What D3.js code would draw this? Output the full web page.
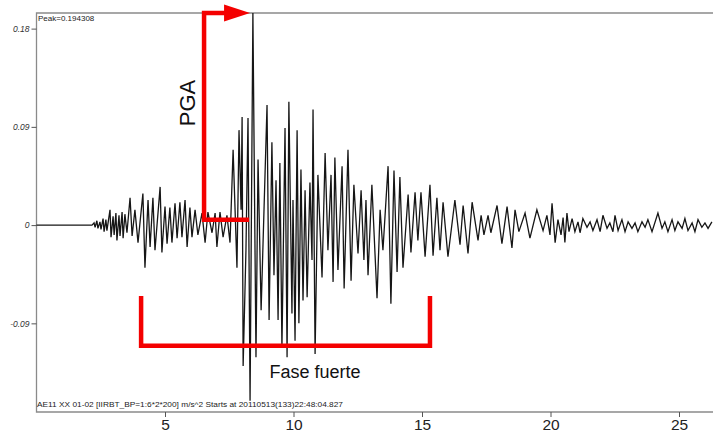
<!DOCTYPE html>
<html><head><meta charset="utf-8">
<script src="https://cdn.jsdelivr.net/npm/d3@7"></script>
<style>body{margin:0;background:#fff}svg{display:block}</style>
</head><body>
<svg id="chart" width="713" height="431"></svg>
<script>
// time (s) of each sample / extremum
const times = [0,2.16,2.24,2.28,2.35,2.39,2.47,2.51,2.59,2.63,2.70,2.74,2.86,2.90,2.98,3.02,3.09,3.13,3.21,3.25,3.33,3.37,3.44,3.52,3.64,3.72,3.83,3.95,4.14,4.22,4.34,4.42,4.53,4.61,4.81,4.88,5.00,5.08,5.19,5.27,5.39,5.47,5.58,5.66,5.78,5.86,5.97,6.05,6.17,6.28,6.44,6.56,6.67,6.83,6.95,7.02,7.14,7.26,7.41,7.53,
7.65,7.80,7.88,7.96,8.00,8.04,8.15,8.23,8.31,8.42,8.54,8.62,8.74,8.97,9.05,9.16,9.24,9.32,9.40,9.47,9.55,9.67,9.75,9.82,9.94,9.98,10.06,10.14,10.21,10.29,10.37,10.45,10.53,10.64,10.72,10.76,10.84,10.95,
11.11,11.23,11.34,11.46,11.54,11.61,11.73,11.89,11.97,12.12,12.24,12.35,12.51,12.63,12.74,12.82,12.90,13.05,13.25,13.37,13.48,13.68,13.79,13.91,14.03,14.14,14.26,14.46,14.57,14.73,14.84,
14.96,15.12,15.31,15.43,15.58,15.70,15.82,16.01,16.28,16.48,16.60,16.79,16.95,17.18,17.30,17.41,17.57,17.68,17.92,18.11,18.31,18.50,18.62,18.77,19.01,19.20,19.47,19.71,19.86,19.98,20.06,20.18,20.29,20.41,
20.49,20.56,20.64,20.72,20.84,20.95,21.07,21.15,21.26,21.42,21.54,21.65,21.81,21.93,22.04,22.20,22.31,22.43,22.51,22.63,22.78,22.90,23.02,23.17,23.29,23.40,23.56,23.68,23.79,23.95,24.18,24.34,24.45,24.57,24.73,24.84,24.96,25.12,25.23,25.35,25.51,25.62,25.74,25.89,26.01,26.13,26.28];
// acceleration (m/s^2)
const accel = [0,0,0.002,-0.002,0.004,-0.003,0.003,-0.004,0.006,-0.006,0.005,-0.005,0.014,-0.011,0.008,-0.009,0.011,-0.014,0.009,-0.010,0.012,-0.012,0.010,-0.007,0.025,-0.010,0.014,-0.016,0.029,-0.039,0.023,-0.020,0.025,-0.023,0.035,-0.025,0.017,-0.017,0.016,-0.016,0.020,-0.012,0.021,-0.011,0.023,-0.020,0.016,-0.011,0.014,-0.009,0.011,-0.016,0.012,-0.007,0.011,-0.020,0.012,-0.011,0.009,-0.016,
0.069,-0.039,0.087,0.014,0.099,-0.129,-0.023,0.098,-0.161,0.1943,-0.121,0.060,-0.078,0.110,-0.087,0.076,-0.046,0.041,-0.087,0.057,-0.112,0.089,-0.121,0.113,-0.081,0.023,-0.106,0.087,-0.090,0.051,-0.069,0.032,-0.066,0.039,-0.032,0.106,-0.118,0.046,
-0.048,0.066,-0.023,0.046,-0.052,0.062,-0.041,0.054,-0.058,0.069,-0.051,0.037,-0.026,0.032,-0.032,0.023,-0.046,0.037,-0.067,0.014,-0.023,0.054,-0.072,0.050,-0.043,0.044,-0.039,0.028,-0.025,0.030,-0.014,
0.030,-0.029,0.037,-0.028,0.025,-0.023,0.021,-0.029,0.023,-0.018,0.018,-0.026,0.021,-0.014,0.009,-0.009,0.009,-0.007,0.018,-0.017,0.017,-0.021,0.014,-0.006,0.011,-0.012,0.014,-0.005,0.009,-0.009,0.020,-0.016,0.005,-0.009,
0.007,-0.016,0.011,-0.006,0.006,-0.006,0.003,-0.007,0.006,-0.002,0.003,-0.005,0.005,-0.006,0.009,-0.003,0.002,-0.006,0.009,-0.005,0.005,-0.006,0.003,-0.003,0.002,-0.006,0.003,-0.002,0.005,-0.006,0.011,-0.003,0.003,-0.006,0.005,-0.005,0.003,-0.003,0.006,-0.005,0.002,-0.006,0.005,-0.002,0.002,-0.003,0.003];

const xTicks = [5, 10, 15, 20, 25];
const yTicks = [0.18, 0.09, 0, -0.09];
const yTickLabels = ["0.18", "0.09", "0", "-0.09"];
const peakLabel = "Peak=0.194308";
const infoLabel = "AE11 XX 01-02  [IIRBT_BP=1:6*2*200] m/s^2  Starts at 20110513(133)22:48:04.827";
const pgaLabel = "PGA";
const phaseLabel = "Fase fuerte";
// annotation anchors in data units
const pgaT = 6.52, pgaEndT = 8.31, pgaBaseA = 0.005;
const phaseStart = 4.07, phaseEnd = 15.31, phaseTopA = -0.065, phaseBottomA = -0.1105;

const svg = d3.select("#chart");
const L = 36.5, T = 13, B = 412, R = 713;
const x = d3.scaleLinear().domain([0, (R - L) / 25.7]).range([L, R]);
const y = d3.scaleLinear().domain([-0.1712, 0.1943]).range([B, T]);

// frame
svg.append("path").attr("d", `M${R},${T}H${L}V${B}H${R}`)
  .attr("fill", "none").attr("stroke", "#8a8a8a").attr("stroke-width", 1.3);

// y axis
const yAxis = svg.append("g").attr("transform", `translate(${L},0)`)
  .call(d3.axisLeft(y).tickValues(yTicks).tickSize(5).tickFormat((d, i) => yTickLabels[i]));
yAxis.select(".domain").remove();
yAxis.selectAll("line").attr("stroke", "#555");
yAxis.selectAll("text").attr("font-family", "Arial, 'Liberation Sans', sans-serif")
  .attr("font-size", 8.5).attr("font-style", "italic").attr("fill", "#333").attr("x", -7);

// x axis
const xAxis = svg.append("g").attr("transform", `translate(0,${B})`)
  .call(d3.axisBottom(x).tickValues(xTicks).tickSize(5).tickFormat(d3.format("d")));
xAxis.select(".domain").remove();
xAxis.selectAll("line").attr("stroke", "#555");
xAxis.selectAll("text").attr("font-family", "Arial, 'Liberation Sans', sans-serif")
  .attr("font-size", 15.5).attr("fill", "#222").attr("dy", 0).attr("y", 17.5);

// waveform
const pts = times.map((t, i) => [t, accel[i]]);
svg.append("path").datum(pts)
  .attr("d", d3.line().x(d => x(d[0])).y(d => y(d[1])))
  .attr("fill", "none").attr("stroke", "#161616").attr("stroke-width", 1.3)
  .attr("stroke-linejoin", "miter");

// labels inside the frame
svg.append("text").attr("x", 38).attr("y", 21).text(peakLabel)
  .attr("font-family", "Arial, 'Liberation Sans', sans-serif").attr("font-size", 8).attr("fill", "#222");
svg.append("text").attr("x", 37).attr("y", 407).text(infoLabel)
  .attr("font-family", "Arial, 'Liberation Sans', sans-serif").attr("font-size", 7.6).attr("fill", "#222")
  .attr("textLength", 306).attr("lengthAdjust", "spacingAndGlyphs");

// red PGA annotation
const red = "#f40000";
svg.append("path")
  .attr("d", `M${x(pgaEndT) - 1},${y(pgaBaseA)}H${x(pgaT)}V${T}H${x(pgaEndT) - 24}`)
  .attr("fill", "none").attr("stroke", red).attr("stroke-width", 4.5);
svg.append("path")
  .attr("d", `M${x(pgaEndT) - 26},${T - 8.5}L${x(pgaEndT)},${T}L${x(pgaEndT) - 26},${T + 8.5}Z`)
  .attr("fill", red);
svg.append("text").text(pgaLabel)
  .attr("transform", `translate(${x(pgaT) - 9},${103}) rotate(-90)`)
  .attr("text-anchor", "middle").attr("font-family", "Arial, 'Liberation Sans', sans-serif")
  .attr("font-size", 22).attr("fill", "#111");

// strong phase bracket
svg.append("path")
  .attr("d", `M${x(phaseStart)},${y(phaseTopA)}V${y(phaseBottomA)}H${x(phaseEnd)}V${y(phaseTopA)}`)
  .attr("fill", "none").attr("stroke", red).attr("stroke-width", 4.5);
svg.append("text").text(phaseLabel)
  .attr("x", 315).attr("y", 378).attr("text-anchor", "middle")
  .attr("font-family", "Arial, 'Liberation Sans', sans-serif").attr("font-size", 18).attr("fill", "#111");
</script>
</body></html>
